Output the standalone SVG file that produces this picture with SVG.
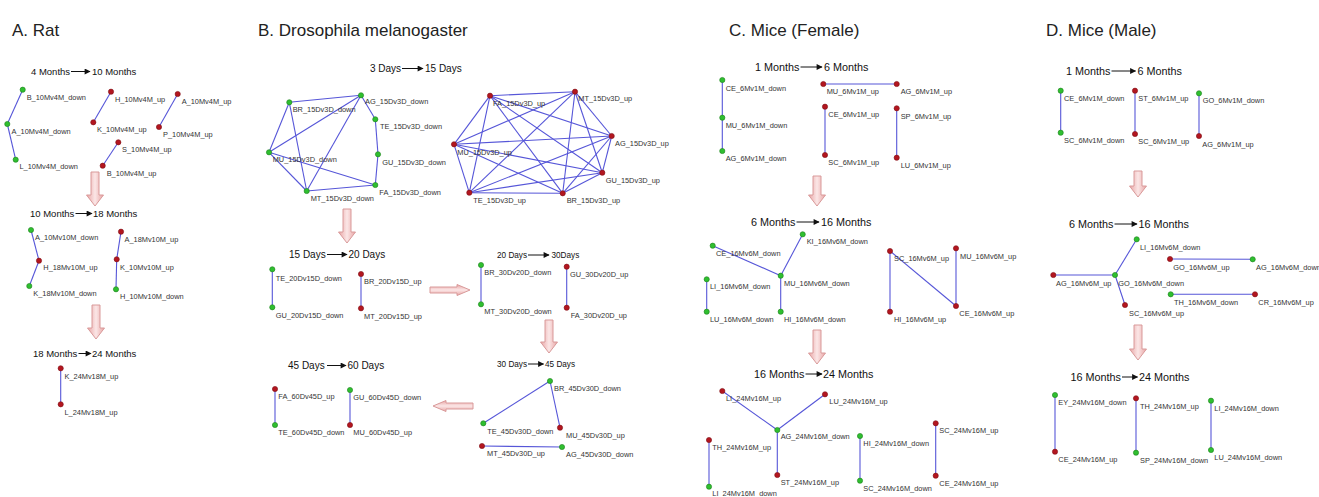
<svg xmlns="http://www.w3.org/2000/svg" width="1319" height="497" viewBox="0 0 1319 497">
<defs>
<style>
text{font-family:"Liberation Sans",Arial,sans-serif}
.hdr{font-size:17px;fill:#222}
.ttlA{font-size:9.5px;fill:#111}
.ttl{font-size:10px;fill:#111}
.ttlS{font-size:8.2px;fill:#111}
.ttl2{font-size:10.8px;fill:#111}
.lbl{font-size:7.4px;fill:#333}
.dn{fill:#2fbf2f;stroke:#1c7f1c;stroke-width:0.6}
.up{fill:#b3161f;stroke:#7d0f15;stroke-width:0.6}
.edge line{stroke:#5656d8;stroke-width:1.1}
.tarr{stroke:#111;stroke-width:1;marker-end:url(#ah)}
.pav{fill:url(#pgv);stroke:#d99a9a;stroke-width:1}
.pah{fill:url(#pgh);stroke:#d99a9a;stroke-width:1}
</style>
<marker id="ah" viewBox="0 0 10 10" refX="9" refY="5" markerWidth="7" markerHeight="6" orient="auto" markerUnits="userSpaceOnUse">
<path d="M0,0 L10,5 L0,10 z" fill="#111"/>
</marker>
<linearGradient id="pgv" x1="0" y1="0" x2="1" y2="0">
<stop offset="0" stop-color="#e8a4a4"/><stop offset="0.5" stop-color="#fbe6e6"/><stop offset="1" stop-color="#e8a4a4"/>
</linearGradient>
<linearGradient id="pgh" x1="0" y1="0" x2="0" y2="1">
<stop offset="0" stop-color="#e8a4a4"/><stop offset="0.5" stop-color="#fbe6e6"/><stop offset="1" stop-color="#e8a4a4"/>
</linearGradient>
</defs>
<rect width="1319" height="497" fill="#fff"/>

<!-- Panel headers -->
<text class="hdr" x="12" y="36">A. Rat</text>
<text class="hdr" x="258" y="36">B. Drosophila melanogaster</text>
<text class="hdr" x="729" y="36">C. Mice (Female)</text>
<text class="hdr" x="1046" y="36">D. Mice (Male)</text>

<!-- Stage titles -->
<g id="titles">
<text class="ttlA" x="31" y="75">4 Months</text><line class="tarr" x1="71" y1="71.5" x2="90" y2="71.5"/><text class="ttlA" x="92" y="75">10 Months</text>
<text class="ttlA" x="30" y="217">10 Months</text><line class="tarr" x1="75.5" y1="213.5" x2="92" y2="213.5"/><text class="ttlA" x="93" y="217">18 Months</text>
<text class="ttlA" x="33" y="357">18 Months</text><line class="tarr" x1="78.5" y1="353.5" x2="91" y2="353.5"/><text class="ttlA" x="92" y="357">24 Months</text>

<text class="ttl" x="370" y="72">3 Days</text><line class="tarr" x1="402" y1="68.5" x2="423" y2="68.5"/><text class="ttl" x="425" y="72">15 Days</text>
<text class="ttl" x="289" y="258">15 Days</text><line class="tarr" x1="327" y1="254.5" x2="347" y2="254.5"/><text class="ttl" x="348.5" y="258">20 Days</text>
<text class="ttlS" x="497" y="258">20 Days</text><line class="tarr" x1="528" y1="255" x2="549" y2="255"/><text class="ttlS" x="551.5" y="258">30Days</text>
<text class="ttl" x="288" y="369">45 Days</text><line class="tarr" x1="327" y1="365.5" x2="346" y2="365.5"/><text class="ttl" x="347.5" y="369">60 Days</text>
<text class="ttlS" x="497" y="367">30 Days</text><line class="tarr" x1="528" y1="364" x2="543.5" y2="364"/><text class="ttlS" x="545" y="367">45 Days</text>

<text class="ttl2" x="755" y="71">1 Months</text><line class="tarr" x1="800.5" y1="67" x2="822" y2="67"/><text class="ttl2" x="824" y="71">6 Months</text>
<text class="ttl2" x="751" y="226">6 Months</text><line class="tarr" x1="796.5" y1="222" x2="819" y2="222"/><text class="ttl2" x="821" y="226">16 Months</text>
<text class="ttl2" x="754" y="378">16 Months</text><line class="tarr" x1="805.5" y1="374" x2="822" y2="374"/><text class="ttl2" x="823" y="378">24 Months</text>

<text class="ttl2" x="1066" y="75">1 Months</text><line class="tarr" x1="1111.5" y1="71" x2="1135.5" y2="71"/><text class="ttl2" x="1137.5" y="75">6 Months</text>
<text class="ttl2" x="1069" y="228">6 Months</text><line class="tarr" x1="1114.5" y1="224" x2="1137" y2="224"/><text class="ttl2" x="1138.5" y="228">16 Months</text>
<text class="ttl2" x="1070.5" y="381">16 Months</text><line class="tarr" x1="1122" y1="377" x2="1137.5" y2="377"/><text class="ttl2" x="1139" y="381">24 Months</text>
</g>

<!-- Pink block arrows -->
<g id="stage-arrows">
<path class="pav" d="M91,172 H99 V195 H103.5 L95,206 L86.5,195 H91 Z"/>
<path class="pav" d="M92,305 H100 V328 H104.5 L96,339 L87.5,328 H92 Z"/>
<path class="pav" d="M343,209 H351 V232 H355.5 L347,243 L338.5,232 H343 Z"/>
<path class="pah" d="M430,287 H457 V284.5 L470,290 L457,295.5 V293 H430 Z"/>
<path class="pav" d="M545,320 H553 V342 H557.5 L549,353 L540.5,342 H545 Z"/>
<path class="pah" d="M473,403 H446 V400.5 L433,406 L446,411.5 V409 H473 Z"/>
<path class="pav" d="M813,176 H821 V195 H825.5 L817,206 L808.5,195 H813 Z"/>
<path class="pav" d="M813,330 H821 V353 H825.5 L817,364 L808.5,353 H813 Z"/>
<path class="pav" d="M1134,171 H1142 V186 H1146.5 L1138,197 L1129.5,186 H1134 Z"/>
<path class="pav" d="M1134,325 H1142 V349 H1146.5 L1138,360 L1129.5,349 H1134 Z"/>
</g>

<!-- Connectors -->
<g id="connectors" class="edge">
<!-- A -->
<line x1="22.7" y1="89.7" x2="7.3" y2="124"/><line x1="7.3" y1="124" x2="15.7" y2="159.7"/>
<line x1="111" y1="91.7" x2="93.3" y2="122.3"/><line x1="177.7" y1="94" x2="159" y2="127"/>
<line x1="118.3" y1="142.3" x2="102.7" y2="165.7"/>
<line x1="31" y1="230" x2="39" y2="260.7"/><line x1="39" y1="260.7" x2="29.3" y2="286"/>
<line x1="121" y1="231.7" x2="116.7" y2="259.3"/><line x1="116.7" y1="259.3" x2="116" y2="289.3"/>
<line x1="60.7" y1="368.3" x2="60.7" y2="404.3"/>
<!-- B 15Dv3D down -->
<line x1="289.3" y1="102.3" x2="361" y2="95.3"/><line x1="289.3" y1="102.3" x2="269" y2="152.3"/>
<line x1="289.3" y1="102.3" x2="306.7" y2="191"/><line x1="269" y1="152.3" x2="361" y2="95.3"/>
<line x1="269" y1="152.3" x2="306.7" y2="191"/><line x1="269" y1="152.3" x2="375.3" y2="185"/>
<line x1="361" y1="95.3" x2="306.7" y2="191"/><line x1="361" y1="95.3" x2="375.3" y2="119.3"/>
<line x1="375.3" y1="119.3" x2="378" y2="154.3"/><line x1="378" y1="154.3" x2="375.3" y2="185"/>
<line x1="375.3" y1="185" x2="306.7" y2="191"/>
<!-- B 15Dv3D up (complete) -->
<line x1="490" y1="95.7" x2="575" y2="91.7"/><line x1="490" y1="95.7" x2="611.7" y2="136"/>
<line x1="490" y1="95.7" x2="602.3" y2="172.7"/><line x1="490" y1="95.7" x2="562.7" y2="193.3"/>
<line x1="490" y1="95.7" x2="469.3" y2="192.7"/><line x1="490" y1="95.7" x2="454" y2="144.3"/>
<line x1="575" y1="91.7" x2="611.7" y2="136"/><line x1="575" y1="91.7" x2="602.3" y2="172.7"/>
<line x1="575" y1="91.7" x2="562.7" y2="193.3"/><line x1="575" y1="91.7" x2="469.3" y2="192.7"/>
<line x1="575" y1="91.7" x2="454" y2="144.3"/>
<line x1="611.7" y1="136" x2="602.3" y2="172.7"/><line x1="611.7" y1="136" x2="562.7" y2="193.3"/>
<line x1="611.7" y1="136" x2="469.3" y2="192.7"/><line x1="611.7" y1="136" x2="454" y2="144.3"/>
<line x1="602.3" y1="172.7" x2="562.7" y2="193.3"/><line x1="602.3" y1="172.7" x2="469.3" y2="192.7"/>
<line x1="602.3" y1="172.7" x2="454" y2="144.3"/>
<line x1="562.7" y1="193.3" x2="469.3" y2="192.7"/><line x1="562.7" y1="193.3" x2="454" y2="144.3"/>
<line x1="469.3" y1="192.7" x2="454" y2="144.3"/>
<!-- B other -->
<line x1="272.3" y1="269.3" x2="272.3" y2="307.3"/><line x1="361" y1="274" x2="361" y2="308.3"/>
<line x1="481" y1="265" x2="481" y2="304.3"/><line x1="566.7" y1="266.7" x2="566.7" y2="307.7"/>
<line x1="275" y1="389" x2="275" y2="425"/><line x1="350" y1="390" x2="350" y2="425"/>
<line x1="550" y1="381" x2="483.3" y2="423.3"/><line x1="550" y1="381" x2="560" y2="427.7"/>
<line x1="482" y1="446" x2="562" y2="447"/>
<!-- C -->
<line x1="722.3" y1="80" x2="722.3" y2="117.7"/><line x1="722.3" y1="117.7" x2="722.3" y2="151"/>
<line x1="823.3" y1="84" x2="896.7" y2="84"/><line x1="825" y1="106.7" x2="825" y2="155"/>
<line x1="896.7" y1="108.3" x2="896.7" y2="157.7"/>
<line x1="802.7" y1="234.3" x2="780.7" y2="275.7"/><line x1="712.7" y1="245.7" x2="780.7" y2="275.7"/>
<line x1="780.7" y1="275.7" x2="780.7" y2="311.7"/><line x1="706.7" y1="279.3" x2="706.7" y2="311.7"/>
<line x1="890" y1="251" x2="890" y2="311.7"/><line x1="890" y1="251" x2="956" y2="306"/>
<line x1="956" y1="248.3" x2="956" y2="306"/>
<line x1="722.3" y1="391" x2="777.3" y2="430"/><line x1="825" y1="394.3" x2="777.3" y2="430"/>
<line x1="777.3" y1="430" x2="777.3" y2="475"/><line x1="709" y1="440" x2="709" y2="486.7"/>
<line x1="860" y1="436" x2="860" y2="480.7"/><line x1="935.7" y1="423.3" x2="935.7" y2="475.7"/>
<!-- D -->
<line x1="1060.7" y1="90.7" x2="1060.7" y2="132.7"/><line x1="1135" y1="90.7" x2="1135" y2="134"/>
<line x1="1199" y1="93.3" x2="1199" y2="136"/>
<line x1="1115" y1="275" x2="1136.7" y2="239.3"/><line x1="1115" y1="275" x2="1053.3" y2="275"/>
<line x1="1115" y1="275" x2="1125" y2="305"/><line x1="1170" y1="259" x2="1252.7" y2="259.3"/>
<line x1="1170.7" y1="294.3" x2="1255" y2="294.3"/>
<line x1="1055" y1="395" x2="1055" y2="451.7"/><line x1="1136" y1="398.3" x2="1136" y2="452.7"/>
<line x1="1211" y1="400.7" x2="1211" y2="450"/>
</g>

<!-- Nodes: Panel A -->
<g id="A-B_10Mv4M_down"><circle class="dn" cx="22.7" cy="89.7" r="2.6"/><text class="lbl" x="26.7" y="99.5">B_10Mv4M_down</text></g>
<g id="A-A_10Mv4M_down"><circle class="dn" cx="7.3" cy="124" r="2.6"/><text class="lbl" x="11.5" y="133.5">A_10Mv4M_down</text></g>
<g id="A-L_10Mv4M_down"><circle class="dn" cx="15.7" cy="159.7" r="2.6"/><text class="lbl" x="19.5" y="169">L_10Mv4M_down</text></g>
<g id="A-H_10Mv4M_up"><circle class="up" cx="111" cy="91.7" r="2.6"/><text class="lbl" x="115" y="101.5">H_10Mv4M_up</text></g>
<g id="A-K_10Mv4M_up"><circle class="up" cx="93.3" cy="122.3" r="2.6"/><text class="lbl" x="97" y="132">K_10Mv4M_up</text></g>
<g id="A-A_10Mv4M_up"><circle class="up" cx="177.7" cy="94" r="2.6"/><text class="lbl" x="181.7" y="103.5">A_10Mv4M_up</text></g>
<g id="A-P_10Mv4M_up"><circle class="up" cx="159" cy="127" r="2.6"/><text class="lbl" x="163" y="136.5">P_10Mv4M_up</text></g>
<g id="A-S_10Mv4M_up"><circle class="up" cx="118.3" cy="142.3" r="2.6"/><text class="lbl" x="122" y="151.5">S_10Mv4M_up</text></g>
<g id="A-B_10Mv4M_up"><circle class="up" cx="102.7" cy="165.7" r="2.6"/><text class="lbl" x="106.7" y="175.5">B_10Mv4M_up</text></g>
<g id="A-A_10Mv10M_down"><circle class="dn" cx="31" cy="230" r="2.6"/><text class="lbl" x="35" y="240">A_10Mv10M_down</text></g>
<g id="A-H_18Mv10M_up"><circle class="up" cx="39" cy="260.7" r="2.6"/><text class="lbl" x="43.3" y="270">H_18Mv10M_up</text></g>
<g id="A-K_18Mv10M_down"><circle class="dn" cx="29.3" cy="286" r="2.6"/><text class="lbl" x="33.3" y="296">K_18Mv10M_down</text></g>
<g id="A-A_18Mv10M_up"><circle class="up" cx="121" cy="231.7" r="2.6"/><text class="lbl" x="124.5" y="241.5">A_18Mv10M_up</text></g>
<g id="A-K_10Mv10M_up"><circle class="up" cx="116.7" cy="259.3" r="2.6"/><text class="lbl" x="120" y="269.5">K_10Mv10M_up</text></g>
<g id="A-H_10Mv10M_down"><circle class="dn" cx="116" cy="289.3" r="2.6"/><text class="lbl" x="120" y="299">H_10Mv10M_down</text></g>
<g id="A-K_24Mv18M_up"><circle class="up" cx="60.7" cy="368.3" r="2.6"/><text class="lbl" x="64.5" y="379">K_24Mv18M_up</text></g>
<g id="A-L_24Mv18M_up"><circle class="up" cx="60.7" cy="404.3" r="2.6"/><text class="lbl" x="64.5" y="414.5">L_24Mv18M_up</text></g>

<!-- Nodes: Panel B -->
<g id="B-BR_15Dv3D_down"><circle class="dn" cx="289.3" cy="102.3" r="2.6"/><text class="lbl" x="292.7" y="111.5">BR_15Dv3D_down</text></g>
<g id="B-AG_15Dv3D_down"><circle class="dn" cx="361" cy="95.3" r="2.6"/><text class="lbl" x="365" y="104">AG_15Dv3D_down</text></g>
<g id="B-TE_15Dv3D_down"><circle class="dn" cx="375.3" cy="119.3" r="2.6"/><text class="lbl" x="380" y="129">TE_15Dv3D_down</text></g>
<g id="B-GU_15Dv3D_down"><circle class="dn" cx="378" cy="154.3" r="2.6"/><text class="lbl" x="382.3" y="164.5">GU_15Dv3D_down</text></g>
<g id="B-FA_15Dv3D_down"><circle class="dn" cx="375.3" cy="185" r="2.6"/><text class="lbl" x="379.3" y="194.5">FA_15Dv3D_down</text></g>
<g id="B-MT_15Dv3D_down"><circle class="dn" cx="306.7" cy="191" r="2.6"/><text class="lbl" x="310.7" y="200.5">MT_15Dv3D_down</text></g>
<g id="B-MU_15Dv3D_down"><circle class="dn" cx="269" cy="152.3" r="2.6"/><text class="lbl" x="272.7" y="161.5">MU_15Dv3D_down</text></g>
<g id="B-FA_15Dv3D_up"><circle class="up" cx="490" cy="95.7" r="2.6"/><text class="lbl" x="493" y="105.5">FA_15Dv3D_up</text></g>
<g id="B-MT_15Dv3D_up"><circle class="up" cx="575" cy="91.7" r="2.6"/><text class="lbl" x="578.3" y="100.5">MT_15Dv3D_up</text></g>
<g id="B-AG_15Dv3D_up"><circle class="up" cx="611.7" cy="136" r="2.6"/><text class="lbl" x="615" y="145.5">AG_15Dv3D_up</text></g>
<g id="B-GU_15Dv3D_up"><circle class="up" cx="602.3" cy="172.7" r="2.6"/><text class="lbl" x="605.7" y="183">GU_15Dv3D_up</text></g>
<g id="B-BR_15Dv3D_up"><circle class="up" cx="562.7" cy="193.3" r="2.6"/><text class="lbl" x="566.7" y="202.5">BR_15Dv3D_up</text></g>
<g id="B-TE_15Dv3D_up"><circle class="up" cx="469.3" cy="192.7" r="2.6"/><text class="lbl" x="473.3" y="202.5">TE_15Dv3D_up</text></g>
<g id="B-MU_15Dv3D_up"><circle class="up" cx="454" cy="144.3" r="2.6"/><text class="lbl" x="457.3" y="154.5">MU_15Dv3D_up</text></g>
<g id="B-TE_20Dv15D_down"><circle class="dn" cx="272.3" cy="269.3" r="2.6"/><text class="lbl" x="275.7" y="280.5">TE_20Dv15D_down</text></g>
<g id="B-GU_20Dv15D_down"><circle class="dn" cx="272.3" cy="307.3" r="2.6"/><text class="lbl" x="275.7" y="317.5">GU_20Dv15D_down</text></g>
<g id="B-BR_20Dv15D_up"><circle class="up" cx="361" cy="274" r="2.6"/><text class="lbl" x="364" y="284">BR_20Dv15D_up</text></g>
<g id="B-MT_20Dv15D_up"><circle class="up" cx="361" cy="308.3" r="2.6"/><text class="lbl" x="364" y="318.5">MT_20Dv15D_up</text></g>
<g id="B-BR_30Dv20D_down"><circle class="dn" cx="481" cy="265" r="2.6"/><text class="lbl" x="484.3" y="274.5">BR_30Dv20D_down</text></g>
<g id="B-MT_30Dv20D_down"><circle class="dn" cx="481" cy="304.3" r="2.6"/><text class="lbl" x="484.3" y="314">MT_30Dv20D_down</text></g>
<g id="B-GU_30Dv20D_up"><circle class="up" cx="566.7" cy="266.7" r="2.6"/><text class="lbl" x="570" y="276.5">GU_30Dv20D_up</text></g>
<g id="B-FA_30Dv20D_up"><circle class="up" cx="566.7" cy="307.7" r="2.6"/><text class="lbl" x="570.7" y="318">FA_30Dv20D_up</text></g>
<g id="B-FA_60Dv45D_up"><circle class="up" cx="275" cy="389" r="2.6"/><text class="lbl" x="278.3" y="399">FA_60Dv45D_up</text></g>
<g id="B-TE_60Dv45D_down"><circle class="dn" cx="275" cy="425" r="2.6"/><text class="lbl" x="278.3" y="435">TE_60Dv45D_down</text></g>
<g id="B-GU_60Dv45D_down"><circle class="dn" cx="350" cy="390" r="2.6"/><text class="lbl" x="353.3" y="399.5">GU_60Dv45D_down</text></g>
<g id="B-MU_60Dv45D_up"><circle class="up" cx="350" cy="425" r="2.6"/><text class="lbl" x="353.3" y="435">MU_60Dv45D_up</text></g>
<g id="B-BR_45Dv30D_down"><circle class="dn" cx="550" cy="381" r="2.6"/><text class="lbl" x="554" y="390.5">BR_45Dv30D_down</text></g>
<g id="B-TE_45Dv30D_down"><circle class="dn" cx="483.3" cy="423.3" r="2.6"/><text class="lbl" x="487.3" y="433.5">TE_45Dv30D_down</text></g>
<g id="B-MU_45Dv30D_up"><circle class="up" cx="560" cy="427.7" r="2.6"/><text class="lbl" x="566" y="437.5">MU_45Dv30D_up</text></g>
<g id="B-MT_45Dv30D_up"><circle class="up" cx="482" cy="446" r="2.6"/><text class="lbl" x="487" y="455.5">MT_45Dv30D_up</text></g>
<g id="B-AG_45Dv30D_down"><circle class="dn" cx="562" cy="447" r="2.6"/><text class="lbl" x="566" y="456.5">AG_45Dv30D_down</text></g>

<!-- Nodes: Panel C -->
<g id="C-CE_6Mv1M_down"><circle class="dn" cx="722.3" cy="80" r="2.6"/><text class="lbl" x="725.7" y="90.5">CE_6Mv1M_down</text></g>
<g id="C-MU_6Mv1M_down"><circle class="dn" cx="722.3" cy="117.7" r="2.6"/><text class="lbl" x="725.7" y="128">MU_6Mv1M_down</text></g>
<g id="C-AG_6Mv1M_down"><circle class="dn" cx="722.3" cy="151" r="2.6"/><text class="lbl" x="725.7" y="160.5">AG_6Mv1M_down</text></g>
<g id="C-MU_6Mv1M_up"><circle class="up" cx="823.3" cy="84" r="2.6"/><text class="lbl" x="826.7" y="94">MU_6Mv1M_up</text></g>
<g id="C-AG_6Mv1M_up"><circle class="up" cx="896.7" cy="84" r="2.6"/><text class="lbl" x="900.7" y="94">AG_6Mv1M_up</text></g>
<g id="C-CE_6Mv1M_up"><circle class="up" cx="825" cy="106.7" r="2.6"/><text class="lbl" x="828.3" y="116.5">CE_6Mv1M_up</text></g>
<g id="C-SC_6Mv1M_up"><circle class="up" cx="825" cy="155" r="2.6"/><text class="lbl" x="828.3" y="165">SC_6Mv1M_up</text></g>
<g id="C-SP_6Mv1M_up"><circle class="up" cx="896.7" cy="108.3" r="2.6"/><text class="lbl" x="900.7" y="119">SP_6Mv1M_up</text></g>
<g id="C-LU_6Mv1M_up"><circle class="up" cx="896.7" cy="157.7" r="2.6"/><text class="lbl" x="900.7" y="167.5">LU_6Mv1M_up</text></g>
<g id="C-KI_16Mv6M_down"><circle class="dn" cx="802.7" cy="234.3" r="2.6"/><text class="lbl" x="806.7" y="244">KI_16Mv6M_down</text></g>
<g id="C-CE_16Mv6M_down"><circle class="dn" cx="712.7" cy="245.7" r="2.6"/><text class="lbl" x="716" y="255.5">CE_16Mv6M_down</text></g>
<g id="C-MU_16Mv6M_down"><circle class="dn" cx="780.7" cy="275.7" r="2.6"/><text class="lbl" x="784" y="285.5">MU_16Mv6M_down</text></g>
<g id="C-LI_16Mv6M_down"><circle class="dn" cx="706.7" cy="279.3" r="2.6"/><text class="lbl" x="710" y="289">LI_16Mv6M_down</text></g>
<g id="C-LU_16Mv6M_down"><circle class="dn" cx="706.7" cy="311.7" r="2.6"/><text class="lbl" x="710" y="321.5">LU_16Mv6M_down</text></g>
<g id="C-HI_16Mv6M_down"><circle class="dn" cx="780.7" cy="311.7" r="2.6"/><text class="lbl" x="784" y="321.5">HI_16Mv6M_down</text></g>
<g id="C-SC_16Mv6M_up"><circle class="up" cx="890" cy="251" r="2.6"/><text class="lbl" x="894" y="261">SC_16Mv6M_up</text></g>
<g id="C-MU_16Mv6M_up"><circle class="up" cx="956" cy="248.3" r="2.6"/><text class="lbl" x="960" y="258.5">MU_16Mv6M_up</text></g>
<g id="C-HI_16Mv6M_up"><circle class="up" cx="890" cy="311.7" r="2.6"/><text class="lbl" x="894" y="321.5">HI_16Mv6M_up</text></g>
<g id="C-CE_16Mv6M_up"><circle class="up" cx="956" cy="306" r="2.6"/><text class="lbl" x="959.3" y="315.5">CE_16Mv6M_up</text></g>
<g id="C-LI_24Mv16M_up"><circle class="up" cx="722.3" cy="391" r="2.6"/><text class="lbl" x="726" y="401">LI_24Mv16M_up</text></g>
<g id="C-LU_24Mv16M_up"><circle class="up" cx="825" cy="394.3" r="2.6"/><text class="lbl" x="829.3" y="404">LU_24Mv16M_up</text></g>
<g id="C-AG_24Mv16M_down"><circle class="dn" cx="777.3" cy="430" r="2.6"/><text class="lbl" x="780.7" y="439">AG_24Mv16M_down</text></g>
<g id="C-TH_24Mv16M_up"><circle class="up" cx="709" cy="440" r="2.6"/><text class="lbl" x="712.3" y="449.5">TH_24Mv16M_up</text></g>
<g id="C-ST_24Mv16M_up"><circle class="up" cx="777.3" cy="475" r="2.6"/><text class="lbl" x="780.7" y="484.5">ST_24Mv16M_up</text></g>
<g id="C-LI_24Mv16M_down"><circle class="dn" cx="709" cy="486.7" r="2.6"/><text class="lbl" x="712.3" y="495.5">LI_24Mv16M_down</text></g>
<g id="C-HI_24Mv16M_down"><circle class="dn" cx="860" cy="436" r="2.6"/><text class="lbl" x="863.3" y="445.5">HI_24Mv16M_down</text></g>
<g id="C-SC_24Mv16M_down"><circle class="dn" cx="860" cy="480.7" r="2.6"/><text class="lbl" x="863.3" y="490.5">SC_24Mv16M_down</text></g>
<g id="C-SC_24Mv16M_up"><circle class="up" cx="935.7" cy="423.3" r="2.6"/><text class="lbl" x="939.3" y="433">SC_24Mv16M_up</text></g>
<g id="C-CE_24Mv16M_up"><circle class="up" cx="935.7" cy="475.7" r="2.6"/><text class="lbl" x="939.3" y="485.5">CE_24Mv16M_up</text></g>

<!-- Nodes: Panel D -->
<g id="D-CE_6Mv1M_down"><circle class="dn" cx="1060.7" cy="90.7" r="2.6"/><text class="lbl" x="1064" y="101">CE_6Mv1M_down</text></g>
<g id="D-SC_6Mv1M_down"><circle class="dn" cx="1060.7" cy="132.7" r="2.6"/><text class="lbl" x="1064" y="142.5">SC_6Mv1M_down</text></g>
<g id="D-ST_6Mv1M_up"><circle class="up" cx="1135" cy="90.7" r="2.6"/><text class="lbl" x="1138.3" y="101">ST_6Mv1M_up</text></g>
<g id="D-SC_6Mv1M_up"><circle class="up" cx="1135" cy="134" r="2.6"/><text class="lbl" x="1138.3" y="144">SC_6Mv1M_up</text></g>
<g id="D-GO_6Mv1M_down"><circle class="dn" cx="1199" cy="93.3" r="2.6"/><text class="lbl" x="1202.7" y="103">GO_6Mv1M_down</text></g>
<g id="D-AG_6Mv1M_up"><circle class="up" cx="1199" cy="136" r="2.6"/><text class="lbl" x="1202.3" y="146.5">AG_6Mv1M_up</text></g>
<g id="D-LI_16Mv6M_down"><circle class="dn" cx="1136.7" cy="239.3" r="2.6"/><text class="lbl" x="1140" y="250">LI_16Mv6M_down</text></g>
<g id="D-GO_16Mv6M_up"><circle class="up" cx="1170" cy="259" r="2.6"/><text class="lbl" x="1173.3" y="270">GO_16Mv6M_up</text></g>
<g id="D-AG_16Mv6M_down"><circle class="dn" cx="1252.7" cy="259.3" r="2.6"/><text class="lbl" x="1256" y="270">AG_16Mv6M_down</text></g>
<g id="D-AG_16Mv6M_up"><circle class="up" cx="1053.3" cy="275" r="2.6"/><text class="lbl" x="1056" y="285.5">AG_16Mv6M_up</text></g>
<g id="D-GO_16Mv6M_down"><circle class="dn" cx="1115" cy="275" r="2.6"/><text class="lbl" x="1118.3" y="285.5">GO_16Mv6M_down</text></g>
<g id="D-TH_16Mv6M_down"><circle class="dn" cx="1170.7" cy="294.3" r="2.6"/><text class="lbl" x="1174" y="305">TH_16Mv6M_down</text></g>
<g id="D-CR_16Mv6M_up"><circle class="up" cx="1255" cy="294.3" r="2.6"/><text class="lbl" x="1258.3" y="305">CR_16Mv6M_up</text></g>
<g id="D-SC_16Mv6M_up"><circle class="up" cx="1125" cy="305" r="2.6"/><text class="lbl" x="1129" y="315.5">SC_16Mv6M_up</text></g>
<g id="D-EY_24Mv16M_down"><circle class="dn" cx="1055" cy="395" r="2.6"/><text class="lbl" x="1058.3" y="405">EY_24Mv16M_down</text></g>
<g id="D-CE_24Mv16M_up"><circle class="up" cx="1055" cy="451.7" r="2.6"/><text class="lbl" x="1058.3" y="461.5">CE_24Mv16M_up</text></g>
<g id="D-TH_24Mv16M_up"><circle class="up" cx="1136" cy="398.3" r="2.6"/><text class="lbl" x="1140" y="408.5">TH_24Mv16M_up</text></g>
<g id="D-SP_24Mv16M_down"><circle class="dn" cx="1136" cy="452.7" r="2.6"/><text class="lbl" x="1140" y="463">SP_24Mv16M_down</text></g>
<g id="D-LI_24Mv16M_down"><circle class="dn" cx="1211" cy="400.7" r="2.6"/><text class="lbl" x="1214.3" y="411">LI_24Mv16M_down</text></g>
<g id="D-LU_24Mv16M_down"><circle class="dn" cx="1211" cy="450" r="2.6"/><text class="lbl" x="1214.3" y="460">LU_24Mv16M_down</text></g>
</svg>
